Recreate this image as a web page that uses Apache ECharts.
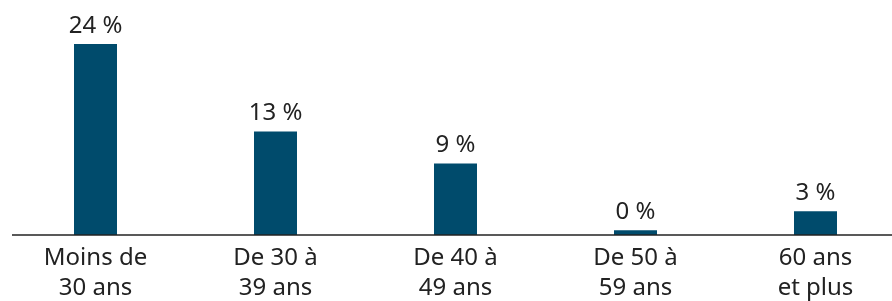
<!DOCTYPE html>
<html>
<head>
<meta charset="utf-8">
<script src="https://cdn.jsdelivr.net/npm/echarts@6/dist/echarts.min.js"></script>
<style>
  html, body { margin: 0; padding: 0; background: #fff; }
  #chart { width: 892px; height: 301px; }
</style>
</head>
<body>
<div id="chart"></div>
<script>
const categories = ['Moins de\n30 ans', 'De 30 à\n39 ans', 'De 40 à\n49 ans', 'De 50 à\n59 ans', '60 ans\net plus']
// bar heights; labels show the rounded value
const values = [24, 13, 9, 0.6, 3]
const valueLabels = ['24 %', '13 %', '9 %', '0 %', '3 %']

const chart = echarts.init(document.getElementById('chart'))

chart.setOption({
  backgroundColor: '#fff',
  animation: false,
  textStyle: { fontFamily: 'Noto Sans' },
  grid: { left: 5.5, width: 900, top: 44, bottom: 66, outerBoundsMode: 'none', containLabel: false },
  xAxis: {
    type: 'category',
    data: categories,
    axisLine: { show: false },
    axisTick: { show: false },
    axisLabel: {
      color: '#222',
      fontSize: 24,
      lineHeight: 30,
      margin: 8,
      interval: 0
    }
  },
  yAxis: {
    type: 'value',
    min: 0,
    max: 24,
    show: false,
    splitLine: { show: false }
  },
  series: [
    {
      type: 'bar',
      data: values,
      barWidth: 43,
      itemStyle: { color: '#004B6C' },
      label: {
        show: true,
        position: 'top',
        distance: 6,
        color: '#222',
        fontSize: 24,
        lineHeight: 24,
        formatter: p => valueLabels[p.dataIndex]
      }
    }
  ],
  graphic: [
    {
      type: 'line',
      shape: { x1: 12, y1: 235, x2: 892, y2: 235 },
      style: { stroke: '#222', lineWidth: 1.5 },
      z: 10
    }
  ]
})

window.addEventListener('resize', () => chart.resize())
</script>
</body>
</html>
